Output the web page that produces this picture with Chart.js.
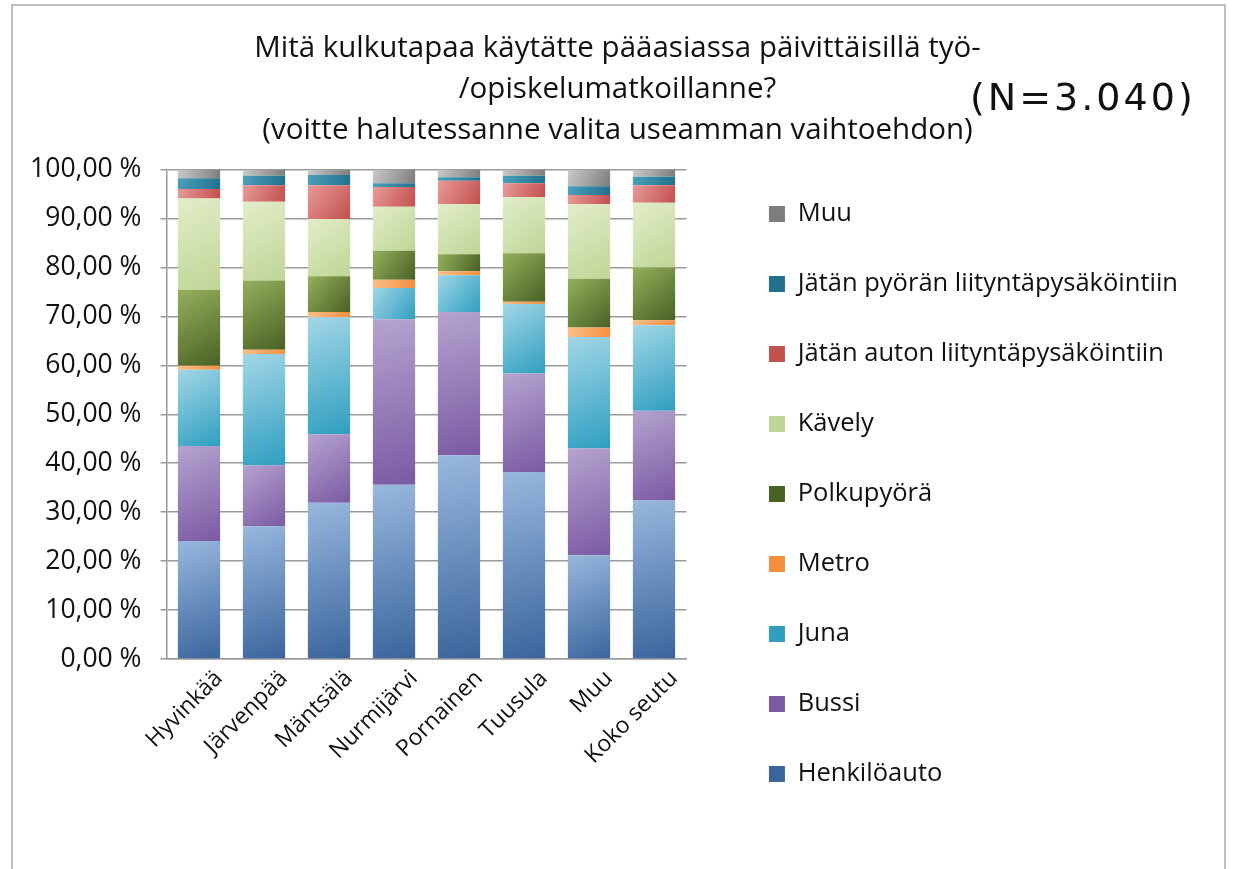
<!DOCTYPE html>
<html>
<head>
<meta charset="utf-8">
<script src="https://cdn.jsdelivr.net/npm/chart.js@4/dist/chart.umd.min.js"></script>
<style>
  body { margin: 0; background: #fff; }
  #wrap { width: 1235px; height: 869px; }
</style>
</head>
<body>
<div id="wrap"><canvas id="chart"></canvas></div>
<script>
let kunnat = ['Hyvinkää', 'Järvenpää', 'Mäntsälä', 'Nurmijärvi', 'Pornainen', 'Tuusula', 'Muu', 'Koko seutu'];

// osuudet prosentteina, alhaalta ylös
let henkiloauto = [24.1, 27.1, 31.9, 35.6, 41.6, 38.2, 21.2, 32.4];
let bussi       = [19.4, 12.5, 14.0, 33.8, 29.3, 20.1, 21.8, 18.3];
let juna        = [15.6, 22.7, 23.9,  6.4,  7.5, 14.2, 22.8, 17.5];
let metro       = [ 0.8,  0.9,  1.1,  1.7,  0.8,  0.5,  1.9,  1.0];
let polkupyora  = [15.5, 14.1,  7.3,  5.9,  3.5,  9.9, 10.0, 10.8];
let kavely      = [18.7, 16.1, 11.7,  9.0, 10.2, 11.5, 15.2, 13.2];
let autoLiit    = [ 1.9,  3.4,  6.9,  4.0,  4.8,  2.8,  1.9,  3.6];
let pyoraLiit   = [ 2.2,  1.9,  2.1,  0.8,  0.7,  1.5,  1.8,  1.7];
let muu         = [ 1.8,  1.3,  1.1,  2.8,  1.6,  1.3,  3.4,  1.5];

let yTicks = [0, 10, 20, 30, 40, 50, 60, 70, 80, 90, 100];

let otsikko = [
  'Mitä kulkutapaa käytätte pääasiassa päivittäisillä työ-',
  '/opiskelumatkoillanne?',
  '(voitte halutessanne valita useamman vaihtoehdon)'
];
let nText = '(N=3.040)';

let sarjat = [
  { label: 'Henkilöauto', data: henkiloauto, c: ['#98b7de', '#3a659c'], solid: '#4a72a8' },
  { label: 'Bussi', data: bussi, c: ['#b5a3cf', '#7a5aa3'], solid: '#8367ad' },
  { label: 'Juna', data: juna, c: ['#a2d6e6', '#2f9fc0'], solid: '#53b0cc' },
  { label: 'Metro', data: metro, c: ['#fbbf8a', '#f48f3e'], solid: '#f79a50' },
  { label: 'Polkupyörä', data: polkupyora, c: ['#94b05c', '#4a6124'], solid: '#5f7a32' },
  { label: 'Kävely', data: kavely, c: ['#e2edc9', '#c0d596'], solid: '#cddfa8' },
  { label: 'Jätän auton liityntäpysäköintiin', data: autoLiit, c: ['#e79a98', '#c2504d'], solid: '#d0605d' },
  { label: 'Jätän pyörän liityntäpysäköintiin', data: pyoraLiit, c: ['#4aa0bb', '#22708d'], solid: '#2f86a3' },
  { label: 'Muu', data: muu, c: ['#c9c9c9', '#7d7d7d'], solid: '#8f8f8f' }
];

const FONT = 'Open Sans';
const BAR_PCT = 0.65;
const LEG_SIZE = 25.5;
const LEG_PAD = 70 - LEG_SIZE;
const LEG_BOX = 16;
const RIGHT_SPACE = 47;
const PLOT_LEFT = 166.5;
const PLOT_RIGHT = 686.5;

function segFill(ctx, si) {
  let s = sarjat[si];
  if (ctx.type !== 'data') return s.solid;
  let chart = ctx.chart;
  let area = chart.chartArea;
  if (!area || !chart.scales.x) return s.solid;
  let i = ctx.dataIndex;
  let start = 0;
  for (let k = 0; k < si; k++) start += sarjat[k].data[i];
  let end = start + s.data[i];
  let xs = chart.scales.x, ys = chart.scales.y;
  let cx = xs.getPixelForValue(i);
  let w = (area.right - area.left) / kunnat.length * BAR_PCT;
  let yTop = ys.getPixelForValue(end), yBot = ys.getPixelForValue(start);
  let g = chart.ctx.createLinearGradient(cx - w / 2, yTop, cx + w / 2, yBot);
  g.addColorStop(0, s.c[0]);
  g.addColorStop(1, s.c[1]);
  return g;
}

let datasets = sarjat.map((s, si) => ({
  label: s.label,
  data: s.data,
  backgroundColor: (ctx) => segFill(ctx, si),
  borderWidth: 0,
  barPercentage: BAR_PCT,
  categoryPercentage: 1
}));

const frame = {
  id: 'frame',
  beforeDraw(chart) {
    let c = chart.ctx;
    c.save();
    c.fillStyle = '#fff';
    c.fillRect(0, 0, chart.width, chart.height);
    c.strokeStyle = '#a8a8a8';
    c.lineWidth = 1.5;
    c.beginPath();
    c.moveTo(12, chart.height + 2);
    c.lineTo(12, 5);
    c.lineTo(1225, 5);
    c.lineTo(1225, chart.height + 2);
    c.stroke();
    c.restore();
  },
  afterDraw(chart) {
    let c = chart.ctx;
    c.save();
    c.font = '38px "DejaVu Sans"';
    c.letterSpacing = '3px';
    c.fillStyle = '#111';
    c.textBaseline = 'middle';
    c.textAlign = 'left';
    c.fillText(nText, 970, 100);
    c.restore();
  }
};

// näkymätön akseli pelkäksi väliksi
function spacer(weight, widthFn) {
  return {
    position: 'right',
    display: true,
    weight: weight,
    grid: { display: false },
    border: { display: false },
    ticks: { display: false },
    afterFit: (s) => { s.width = widthFn(s); }
  };
}

new Chart(document.getElementById('chart'), {
  type: 'bar',
  data: { labels: kunnat, datasets: datasets },
  plugins: [frame],
  options: {
    responsive: true,
    maintainAspectRatio: false,
    animation: false,
    layout: { padding: 0 },
    plugins: {
      tooltip: { enabled: false },
      title: {
        display: true,
        text: otsikko,
        color: '#111',
        font: { family: FONT, size: 29.5, weight: 'normal', lineHeight: 41 / 29.5 },
        padding: { top: 28.5, bottom: 18 }
      },
      legend: {
        position: 'right',
        align: 'start',
        reverse: true,
        maxWidth: 700,
        title: { display: true, text: '', font: { size: 10, lineHeight: 1 }, padding: { top: 214 - LEG_PAD - LEG_SIZE / 2 - 10, bottom: 0 } },
        labels: {
          boxWidth: LEG_BOX,
          boxHeight: LEG_BOX,
          padding: LEG_PAD,
          color: '#111',
          font: { family: FONT, size: LEG_SIZE }
        }
      }
    },
    scales: {
      x: {
        stacked: true,
        grid: { drawOnChartArea: false, drawTicks: false },
        border: { color: '#9a9a9a', width: 1.5 },
        ticks: {
          color: '#111',
          font: { family: FONT, size: 23 },
          minRotation: 45,
          maxRotation: 45,
          autoSkip: false,
          labelOffset: 20,
          padding: 6
        },
        afterFit: (s) => { s.height = 210; }
      },
      y: {
        stacked: true,
        min: 0,
        max: 100,
        afterBuildTicks: (s) => { s.ticks = yTicks.map(v => ({ value: v })); },
        grid: { color: '#9a9a9a', lineWidth: 1.5, tickLength: 6 },
        border: { color: '#9a9a9a', width: 1.5 },
        ticks: {
          color: '#111',
          font: { family: FONT, size: 26.5 },
          padding: 19,
          callback: (v) => v.toFixed(2).replace('.', ',') + ' %'
        },
        afterFit: (s) => { s.width = PLOT_LEFT; }
      },
      // väli kuvaaja-alueen ja selitteen välissä
      gap: spacer(0, (s) => {
        let lw = s.chart.legend ? s.chart.legend.width : 0;
        return Math.max(0, 1235 - RIGHT_SPACE - lw - PLOT_RIGHT);
      }),
      // tyhjä reuna selitteen oikealla puolella
      edge: spacer(2000, () => RIGHT_SPACE)
    }
  }
});
</script>
</body>
</html>
